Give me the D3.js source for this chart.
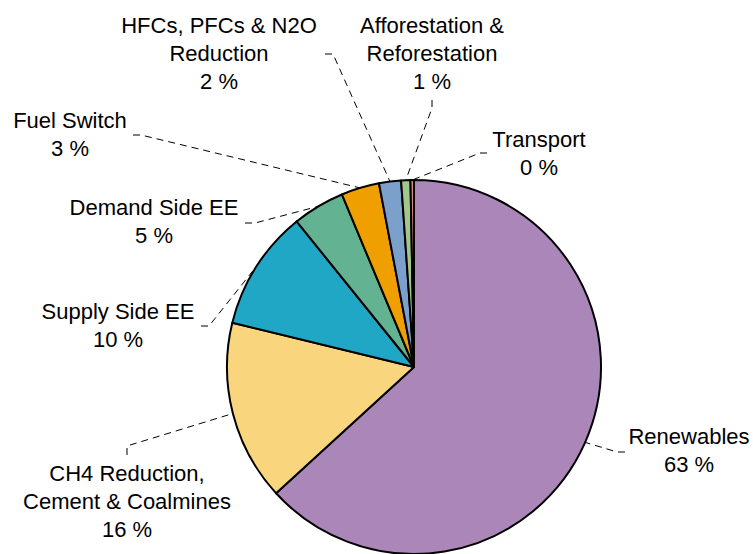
<!DOCTYPE html>
<html>
<head>
<meta charset="utf-8">
<script src="https://cdn.jsdelivr.net/npm/d3@7"></script>
<style>
  body { margin: 0; background: #fff; }
  svg { display: block; }
  text { font-family: Arial, "Liberation Sans", sans-serif; font-size: 22px; fill: #000; }
</style>
</head>
<body>
<svg id="chart" width="753" height="554"></svg>
<script>
// data, clockwise from 12 o'clock
const categories = ["Renewables", "CH4 Reduction, Cement & Coalmines", "Supply Side EE",
  "Demand Side EE", "Fuel Switch", "HFCs, PFCs & N2O Reduction",
  "Afforestation & Reforestation", "Transport"];
const shares = [63.2, 15.6, 10.4, 4.5, 3.3, 1.9, 0.8, 0.3];
const shownPct = ["63 %", "16 %", "10 %", "5 %", "3 %", "2 %", "1 %", "0 %"];
const labelLines = [
  ["Renewables"],
  ["CH4 Reduction,", "Cement & Coalmines"],
  ["Supply Side EE"],
  ["Demand Side EE"],
  ["Fuel Switch"],
  ["HFCs, PFCs & N2O", "Reduction"],
  ["Afforestation &", "Reforestation"],
  ["Transport"]
];
const colors = ["#ab87b9", "#f9d57e", "#21a7c6", "#63b291", "#ef9f00", "#7ba0cb", "#a2c78b", "#d9868a"];

// layout: label anchor (centre x, first baseline) and leader start / elbow
const labelPos = [
  {x: 689, y: 444, lead: [[625, 452], [617, 452]]},
  {x: 127, y: 481, lead: [[127, 455], [127, 446]]},
  {x: 118, y: 319, lead: [[201, 326], [209, 326]]},
  {x: 154, y: 215, lead: [[245, 223], [255, 223]]},
  {x: 70,  y: 128, lead: [[133, 135], [141, 135]]},
  {x: 219, y: 33,  lead: [[325, 54], [333, 54]]},
  {x: 432, y: 33,  lead: [[432, 100], [432, 108]]},
  {x: 539, y: 147, lead: [[487, 153], [480, 153]]}
];

const cx = 414, cy = 367, r = 187, lineH = 28;
const svg = d3.select("#chart");

const data = categories.map((c, i) => ({name: c, value: shares[i], i}));
const pie = d3.pie().sort(null).value(d => d.value);
const arcs = pie(data);
const arc = d3.arc().innerRadius(0).outerRadius(r);

const g = svg.append("g").attr("transform", `translate(${cx},${cy})`);

g.selectAll("path.slice")
  .data(arcs)
  .enter().append("path")
    .attr("class", "slice")
    .attr("d", arc)
    .attr("fill", d => colors[d.data.i])
    .attr("stroke", "#000")
    .attr("stroke-width", 2)
    .attr("stroke-linejoin", "round");

// leader lines
const edgePoint = d => {
  const a = (d.startAngle + d.endAngle) / 2;
  return [cx + r * Math.sin(a), cy - r * Math.cos(a)];
};

svg.append("g")
  .selectAll("path")
  .data(arcs)
  .enter().append("path")
    .attr("d", d => {
      const p = labelPos[d.data.i].lead;
      return d3.line()([p[0], p[1], edgePoint(d)]);
    })
    .attr("fill", "none")
    .attr("stroke", "#000")
    .attr("stroke-width", 1)
    .attr("stroke-dasharray", "7,5");

// labels
const labels = svg.append("g")
  .selectAll("text")
  .data(arcs)
  .enter().append("text")
    .attr("text-anchor", "middle")
    .attr("x", d => labelPos[d.data.i].x)
    .attr("y", d => labelPos[d.data.i].y);

labels.each(function(d) {
  const t = d3.select(this);
  const lines = labelLines[d.data.i].concat([shownPct[d.data.i]]);
  lines.forEach((s, k) => {
    t.append("tspan")
      .attr("x", labelPos[d.data.i].x)
      .attr("dy", k === 0 ? 0 : lineH)
      .text(s);
  });
});
</script>
</body>
</html>
